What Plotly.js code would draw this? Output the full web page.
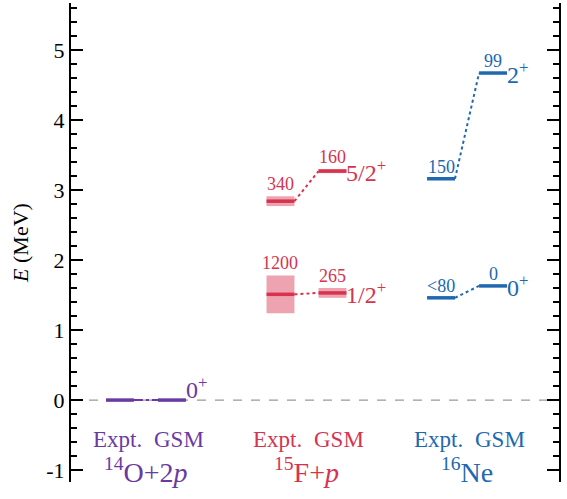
<!DOCTYPE html>
<html>
<head>
<meta charset="utf-8">
<script src="https://cdn.plot.ly/plotly-3.0.1.min.js"></script>
<style>html,body{margin:0;padding:0;background:#fff;} #chart{width:567px;height:499px;}</style>
</head>
<body>
<div id="chart"></div>
<script>
// ---- data ----
const nuclei = ['<sup>14</sup>O+2<i>p</i>', '<sup>15</sup>F+<i>p</i>', '<sup>16</sup>Ne'];
const stateNucleus = [0, 1, 1, 2, 2];
const stateLabels = ['0<sup>+</sup>', '1/2<sup>+</sup>', '5/2<sup>+</sup>', '0<sup>+</sup>', '2<sup>+</sup>'];
const exptE = [0, 1.51, 2.84, 1.46, 3.16];
const exptErr = [0, 0.27, 0.07, 0, 0];
const gsmE = [0, 1.53, 3.27, 1.63, 4.67];
const gsmErr = [0, 0.07, 0.03, 0, 0];
const exptWidth = ['', '1200', '340', '&lt;80', '150'];
const gsmWidth = ['', '265', '160', '0', '99'];
const methods = ['Expt.', 'GSM'];

// ---- style ----
const colors = ['#6a3aa0', '#d7334f', '#2068b0'];
const boxColors = ['rgba(106,58,160,0.4)', 'rgba(215,51,79,0.45)', 'rgba(32,104,176,0.4)'];
const connDash = ['dashdot', 'dot', 'dot', 'dot', 'dot'];
const labelYShift = [12, 0, 0, 0, 0];
const off = 0.162, hw = 0.087;
const FONT = 'Liberation Serif';

const traces = [];
const annotations = [];

stateNucleus.forEach((n, i) => {
  const c = colors[n];
  const xe = n - off, xg = n + off;
  [[xe, exptE[i], exptErr[i]], [xg, gsmE[i], gsmErr[i]]].forEach(([x, e, er]) => {
    if (er > 0) {
      traces.push({
        x: [x - hw, x + hw, x + hw, x - hw, x - hw],
        y: [e - er, e - er, e + er, e + er, e - er],
        mode: 'lines', fill: 'toself', fillcolor: boxColors[n],
        line: {width: 0, color: boxColors[n]}, hoverinfo: 'skip', showlegend: false
      });
    }
  });
  traces.push({
    x: [xe + hw, xg - hw], y: [exptE[i], gsmE[i]], mode: 'lines',
    line: {color: c, width: 2, dash: connDash[i]}, showlegend: false, hoverinfo: 'skip'
  });
  [[xe, exptE[i]], [xg, gsmE[i]]].forEach(([x, e]) => {
    traces.push({
      x: [x - hw, x + hw], y: [e, e], mode: 'lines',
      line: {color: c, width: 3.5}, showlegend: false, hoverinfo: 'skip'
    });
  });
  [[xe, exptE[i] + exptErr[i], exptWidth[i]], [xg, gsmE[i] + gsmErr[i], gsmWidth[i]]].forEach(([x, top, t]) => {
    if (t !== '') {
      annotations.push({x: x, y: top, xref: 'x', yref: 'y', text: t, showarrow: false,
        xanchor: 'center', yanchor: 'bottom', yshift: 0,
        font: {family: FONT, size: 18, color: c}});
    }
  });
  annotations.push({x: xg + hw, y: gsmE[i], xref: 'x', yref: 'y', text: stateLabels[i], showarrow: false,
    xanchor: 'left', yanchor: 'middle', yshift: labelYShift[i], xshift: -2,
    font: {family: FONT, size: 24, color: c}});
});

nuclei.forEach((name, n) => {
  annotations.push({x: n - 0.015, y: -0.57, xref: 'x', yref: 'y', text: methods[0], showarrow: false,
    xanchor: 'right', yanchor: 'middle', font: {family: FONT, size: 23, color: colors[n]}});
  annotations.push({x: n + 0.035, y: -0.57, xref: 'x', yref: 'y', text: methods[1], showarrow: false,
    xanchor: 'left', yanchor: 'middle', font: {family: FONT, size: 23, color: colors[n]}});
  annotations.push({x: n, y: -1.0, xref: 'x', yref: 'y', text: name, showarrow: false,
    xanchor: 'center', yanchor: 'middle', font: {family: FONT, size: 28, color: colors[n]}});
});

const layout = {
  width: 567, height: 499,
  margin: {l: 71, r: 8, t: 3, b: 17},
  paper_bgcolor: '#fff', plot_bgcolor: '#fff',
  showlegend: false,
  font: {family: FONT},
  xaxis: {range: [-0.467, 2.573], showgrid: false, zeroline: false, showline: false,
    showticklabels: false, ticks: '', fixedrange: true},
  yaxis: {range: [-1.17, 5.67], showgrid: false, zeroline: false,
    showline: true, linecolor: '#000', linewidth: 2, mirror: 'ticks',
    ticks: 'inside', ticklen: 12, tickwidth: 1.5, tickcolor: '#000',
    tickvals: [-1, 0, 1, 2, 3, 4, 5], ticktext: ['-1', '0', '1', '2', '3', '4', '5'],
    minor: {tickvals: [-1.2,-0.8,-0.6,-0.4,-0.2,0.2,0.4,0.6,0.8,1.2,1.4,1.6,1.8,2.2,2.4,2.6,2.8,3.2,3.4,3.6,3.8,4.2,4.4,4.6,4.8,5.2,5.4,5.6],
      ticks: 'inside', ticklen: 6, tickwidth: 1.5, tickcolor: '#000'},
    tickfont: {family: FONT, size: 22, color: '#000'},
    title: {text: '<i>E</i> (MeV)', font: {family: FONT, size: 22, color: '#000'}, standoff: 12}
  },
  shapes: [{type: 'line', xref: 'paper', yref: 'y', x0: 0, x1: 1, y0: 0, y1: 0,
    line: {color: '#999', width: 1.2, dash: 'dash'}, layer: 'below'}],
  annotations: annotations
};

Plotly.newPlot('chart', traces, layout, {staticPlot: true, displayModeBar: false});
</script>
</body>
</html>
